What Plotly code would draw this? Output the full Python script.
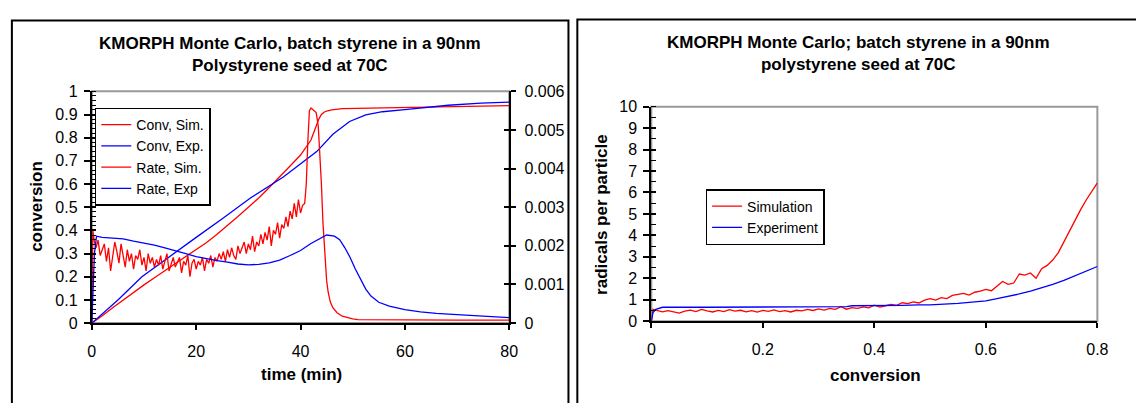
import plotly.graph_objects as go

# ---------------- Left chart data ----------------
# Conversion, simulation (time in min)
conv_sim_t = [0, 1, 2, 4, 6, 8, 10, 12, 14, 16, 18, 20, 22, 24, 26, 28, 30, 32, 34, 36, 38, 40,
              41, 42, 42.5, 43, 43.5, 44, 44.5, 45, 46, 48, 50, 55, 60, 65, 70, 75, 80]
conv_sim = [0, 0.015, 0.032, 0.066, 0.1, 0.133, 0.165, 0.196, 0.226, 0.256, 0.285, 0.315, 0.348,
            0.383, 0.42, 0.46, 0.5, 0.54, 0.585, 0.63, 0.678, 0.725, 0.755, 0.79, 0.82, 0.855,
            0.88, 0.9, 0.91, 0.915, 0.92, 0.925, 0.926, 0.928, 0.93, 0.932, 0.935, 0.938, 0.938]

# Conversion, experiment
conv_exp_t = [0, 1, 2, 5, 9.6, 15, 20, 25, 30.4, 36.7, 39.9, 43.1, 46.2, 49.4, 52.5, 55.7,
              60, 64.5, 68.3, 74.6, 80]
conv_exp = [0, 0.02, 0.04, 0.1, 0.2, 0.29, 0.37, 0.45, 0.54, 0.63, 0.685, 0.74, 0.815, 0.87,
            0.898, 0.912, 0.921, 0.93, 0.94, 0.949, 0.953]

# Rate, simulation (x 1e-3 per min)
rate_sim_t = [0, 0.2, 0.5,
              0.8, 1.2, 1.6, 2.0, 2.4, 2.8, 3.2, 3.6, 4.0, 4.4,
              4.8, 5.2, 5.6, 6.0, 6.4, 6.8, 7.2, 7.6, 8.0, 8.4,
              8.8, 9.2, 9.6, 10.0, 10.4, 10.8, 11.2, 11.6, 12.0, 12.4,
              12.8, 13.2, 13.6, 14.0, 14.4, 14.8, 15.2, 15.6, 16.0, 16.4,
              16.8, 17.2, 17.6, 18.0, 18.4, 18.8, 19.2, 19.6, 20.0, 20.4,
              20.8, 21.2, 21.6, 22.0, 22.4, 22.8, 23.2, 23.6, 24.0, 24.4,
              24.8, 25.2, 25.6, 26.0, 26.4, 26.8, 27.2, 27.6, 28.0, 28.4,
              28.8, 29.2, 29.6, 30.0, 30.4, 30.8, 31.2, 31.6, 32.0, 32.4,
              32.8, 33.2, 33.6, 34.0, 34.4, 34.8, 35.2, 35.6, 36.0, 36.4,
              36.8, 37.2, 37.6, 38.0, 38.4, 38.8, 39.2, 39.6, 40.0, 40.4,
              40.8, 41.1, 41.4, 41.7, 42.0, 42.5, 43.0, 43.4, 43.7, 44.0, 44.3, 44.6,
              45.0, 45.3, 45.7, 46.2, 47.0, 48.0, 49.0, 50.0, 51.0, 55, 60, 65, 70, 75, 80]
rate_sim_milli = [0.0, 2.4, 2.1,
                  1.95, 2.15, 1.75, 1.9, 2.05, 1.6, 1.95, 1.35, 1.8, 2.1,
                  1.85, 1.55, 2.05, 1.7, 1.45, 1.9, 1.6, 1.8, 1.4, 1.75,
                  1.65, 1.9, 1.5, 1.7, 1.35, 1.8, 1.55, 1.7, 1.45, 1.65,
                  1.5, 1.75, 1.4, 1.6, 1.8, 1.35, 1.55, 1.7, 1.45, 1.6,
                  1.7, 1.3, 1.6, 1.5, 1.75, 1.2, 1.55, 1.65, 1.4, 1.6,
                  1.5, 1.7, 1.35, 1.65, 1.55, 1.75, 1.45, 1.7, 1.6, 1.8,
                  1.65, 1.85, 1.6, 1.9, 1.7, 1.95, 1.75, 1.65, 2.0, 1.8,
                  1.95, 2.1, 1.8, 2.05, 1.9, 2.25, 1.85, 2.1, 2.0, 2.3,
                  2.05, 2.35, 2.15, 2.5, 2.0, 2.4, 2.3, 2.6, 2.2, 2.55,
                  2.45, 2.75, 2.5, 2.9, 2.7, 3.1, 2.75, 3.2, 2.85, 3.05,
                  3.1, 3.6, 4.7, 5.5, 5.57, 5.52, 5.45, 5.1, 4.4, 3.6, 2.6, 1.8,
                  1.1, 0.8, 0.55, 0.4, 0.27, 0.18, 0.14, 0.11, 0.09, 0.085, 0.085, 0.085, 0.08, 0.08, 0.08]

# Rate, experiment (x 1e-3 per min)
rate_exp_t = [0, 0.5, 0.9, 2, 4, 6, 8, 10, 12, 14, 16, 18, 20, 22, 24, 26, 28, 30, 32, 34, 36,
              38, 40, 42, 44, 45, 46.5, 47.5, 48.5, 49.5, 50.5, 51.5, 52.5, 53.5, 55, 57, 60,
              63, 66, 70, 74, 77, 80]
rate_exp_milli = [0, 1.8, 2.25, 2.22, 2.2, 2.18, 2.12, 2.07, 2.02, 1.95, 1.88, 1.8, 1.72, 1.66,
                  1.62, 1.58, 1.53, 1.51, 1.52, 1.56, 1.63, 1.75, 1.88, 2.06, 2.22, 2.28, 2.25,
                  2.16, 1.95, 1.7, 1.4, 1.12, 0.88, 0.7, 0.54, 0.44, 0.35, 0.29, 0.25, 0.22,
                  0.19, 0.17, 0.14]

# ---------------- Right chart data ----------------
rad_exp_conv = [0, 0.003, 0.008, 0.015, 0.02, 0.1, 0.2, 0.3, 0.31, 0.35, 0.36, 0.4, 0.45, 0.48,
                0.5, 0.55, 0.58, 0.6, 0.62, 0.64, 0.66, 0.68, 0.7, 0.72, 0.74, 0.76, 0.78, 0.8]
rad_exp = [0, 0.4, 0.55, 0.62, 0.65, 0.65, 0.65, 0.65, 0.68, 0.68, 0.72, 0.72, 0.74, 0.76,
           0.76, 0.83, 0.9, 0.95, 1.05, 1.15, 1.27, 1.4, 1.55, 1.72, 1.9, 2.12, 2.35, 2.55]

rad_sim_conv = [0, 0.003,
                0.01, 0.02, 0.03, 0.04, 0.05, 0.06, 0.07, 0.08, 0.09, 0.10,
                0.11, 0.12, 0.13, 0.14, 0.15, 0.16, 0.17, 0.18, 0.19, 0.20,
                0.21, 0.22, 0.23, 0.24, 0.25, 0.26, 0.27, 0.28, 0.29, 0.30,
                0.31, 0.32, 0.33, 0.34, 0.35, 0.36, 0.37, 0.38, 0.39, 0.40,
                0.41, 0.42, 0.43, 0.44, 0.45, 0.46, 0.47, 0.48, 0.49, 0.50,
                0.51, 0.52, 0.53, 0.54, 0.55, 0.56, 0.57, 0.58, 0.59, 0.60,
                0.61, 0.62, 0.63, 0.64, 0.65, 0.66, 0.67, 0.68, 0.69, 0.70,
                0.71, 0.72, 0.73, 0.74, 0.75, 0.76, 0.77, 0.78, 0.79, 0.80]
rad_sim = [0.0, 0.55,
           0.5, 0.44, 0.49, 0.42, 0.38, 0.47, 0.52, 0.45, 0.55, 0.48,
           0.43, 0.5, 0.45, 0.54, 0.47, 0.51, 0.44, 0.49, 0.42, 0.5,
           0.46, 0.53, 0.45, 0.49, 0.43, 0.51, 0.48, 0.55, 0.5, 0.57,
           0.52, 0.6, 0.55, 0.68, 0.56, 0.63, 0.6, 0.67, 0.62, 0.75,
           0.66, 0.72, 0.78, 0.74, 0.86, 0.82, 0.9, 0.85, 0.98, 1.05,
           0.98, 1.1, 1.05, 1.2, 1.25, 1.3, 1.22, 1.35, 1.4, 1.48,
           1.42, 1.65, 1.85, 1.72, 1.78, 2.2, 2.15, 2.25, 2.0, 2.45,
           2.6, 2.85, 3.2, 3.7, 4.2, 4.75, 5.2, 5.65, 6.05, 6.45]

# ---------------- Figure ----------------
W, H = 1136, 403
FONT = "Liberation Sans, Arial, sans-serif"
RED, BLUE = "#FF0000", "#0000FF"


def px_x(p):
    return p / W


def px_y(p):
    return (H - p) / H


rate_sim = [v / 1000 for v in rate_sim_milli]
rate_exp = [v / 1000 for v in rate_exp_milli]

fig = go.Figure()
lw = 1.3
fig.add_trace(go.Scatter(x=conv_sim_t, y=conv_sim, mode="lines", name="Conv, Sim.",
                         line=dict(color=RED, width=lw), xaxis="x", yaxis="y",
                         legend="legend", legendgroup="a"))
fig.add_trace(go.Scatter(x=conv_exp_t, y=conv_exp, mode="lines", name="Conv, Exp.",
                         line=dict(color=BLUE, width=lw), xaxis="x", yaxis="y",
                         legend="legend", legendgroup="b"))
fig.add_trace(go.Scatter(x=rate_sim_t, y=rate_sim, mode="lines", name="Rate, Sim.",
                         line=dict(color=RED, width=lw), xaxis="x", yaxis="y2",
                         legend="legend", legendgroup="c"))
fig.add_trace(go.Scatter(x=rate_exp_t, y=rate_exp, mode="lines", name="Rate, Exp",
                         line=dict(color=BLUE, width=lw), xaxis="x", yaxis="y2",
                         legend="legend", legendgroup="d"))
# helper empty traces so overlay tick axes get drawn
for ya, xa in (("y3", "x"), ("y4", "x"), ("y6", "x2")):
    fig.add_trace(go.Scatter(x=[], y=[], xaxis=xa, yaxis=ya, showlegend=False,
                             hoverinfo="skip"))

fig.add_trace(go.Scatter(x=rad_sim_conv, y=rad_sim, mode="lines", name="Simulation",
                         line=dict(color=RED, width=lw), xaxis="x2", yaxis="y5",
                         legend="legend2", legendgroup="e"))
fig.add_trace(go.Scatter(x=rad_exp_conv, y=rad_exp, mode="lines", name="Experiment",
                         line=dict(color=BLUE, width=lw), xaxis="x2", yaxis="y5",
                         legend="legend2", legendgroup="f"))

tickfont = dict(family=FONT, size=16, color="black")
ax_common = dict(showgrid=False, zeroline=False, tickfont=tickfont, tickcolor="black",
                 linecolor="black")

left_dom_x = [px_x(89), px_x(512)]
left_dom_y = [px_y(329), px_y(87)]
right_dom_x = [px_x(656), px_x(1108)]
right_dom_y = [px_y(327), px_y(103)]

fig.update_layout(
    width=W, height=H, margin=dict(l=0, r=0, t=0, b=0),
    paper_bgcolor="white", plot_bgcolor="white",
    font=dict(family=FONT, color="black"),
    xaxis=dict(domain=left_dom_x, range=[0, 80], dtick=20, anchor="y", showline=True,
               linewidth=2, ticks="outside", ticklen=5, tickwidth=1.5,
               ticklabelstandoff=8, **ax_common),
    yaxis=dict(domain=left_dom_y, range=[0, 1], dtick=0.1, anchor="x", showline=True,
               linewidth=2, ticks="outside", ticklen=6, tickwidth=1.5,
               minor=dict(ticks="inside", dtick=0.02, ticklen=4, tickcolor="black",
                          tickwidth=1),
               ticklabelstandoff=3, **ax_common),
    yaxis2=dict(range=[0, 0.006], dtick=0.001, overlaying="y", side="right", anchor="x",
                showline=True, linewidth=2, ticks="outside", ticklen=5, tickwidth=1.5,
                ticklabelstandoff=5, **ax_common),
    yaxis3=dict(range=[0, 1], dtick=0.1, overlaying="y", anchor="x", showline=False,
                ticks="inside", ticklen=4, tickwidth=1.5, showticklabels=False,
                **ax_common),
    yaxis4=dict(range=[0, 0.006], dtick=0.001, overlaying="y", side="right", anchor="x",
                showline=False, ticks="inside", ticklen=5, tickwidth=1.5,
                showticklabels=False, **ax_common),
    xaxis2=dict(domain=right_dom_x, range=[0, 0.8], dtick=0.2, anchor="y5", showline=True,
                linewidth=2, ticks="outside", ticklen=5, tickwidth=1.5,
                ticklabelstandoff=8, **ax_common),
    yaxis5=dict(domain=right_dom_y, range=[0, 10], dtick=1, anchor="x2", showline=True,
                linewidth=2, ticks="outside", ticklen=6, tickwidth=1.5,
                minor=dict(ticks="inside", dtick=0.5, ticklen=5, tickcolor="black",
                           tickwidth=1),
                ticklabelstandoff=3, **ax_common),
    yaxis6=dict(range=[0, 10], dtick=1, overlaying="y5", anchor="x2", showline=False,
                ticks="inside", ticklen=5, tickwidth=1.5, showticklabels=False,
                **ax_common),
    legend=dict(x=px_x(92), y=px_y(104), xanchor="left", yanchor="top",
                bgcolor="white", bordercolor="black", borderwidth=1.5,
                font=dict(family=FONT, size=14, color="black"), tracegroupgap=0,
                itemwidth=30),
    legend2=dict(x=px_x(711), y=px_y(189), xanchor="left", yanchor="top",
                 bgcolor="white", bordercolor="black", borderwidth=1.5,
                 font=dict(family=FONT, size=14, color="black"), tracegroupgap=0,
                 itemwidth=30),
    showlegend=True,
)

# plot-area borders (grey) and panel frames (black)
shapes = [
    dict(type="rect", xref="x domain", yref="y domain", x0=0, x1=1, y0=0, y1=1,
         line=dict(color="#999999", width=2), layer="below"),
    dict(type="rect", xref="x2 domain", yref="y5 domain", x0=0, x1=1, y0=0, y1=1,
         line=dict(color="#999999", width=2), layer="below"),
    dict(type="rect", xref="paper", yref="paper", x0=px_x(8), x1=px_x(572),
         y0=-0.1, y1=px_y(13), line=dict(color="black", width=2)),
    dict(type="rect", xref="paper", yref="paper", x0=px_x(581), x1=1.05,
         y0=-0.1, y1=px_y(12), line=dict(color="black", width=2)),
]
fig.update_layout(shapes=shapes)

title_font = dict(family=FONT, size=17, color="black")
ann = [
    dict(text="<b>KMORPH Monte Carlo, batch styrene in a 90nm</b><br><b>Polystyrene seed at 70C</b>",
         x=px_x(290), y=px_y(49), xref="paper", yref="paper", showarrow=False,
         xanchor="center", yanchor="middle", font=title_font),
    dict(text="<b>KMORPH Monte Carlo; batch styrene in a 90nm</b><br><b>polystyrene seed at 70C</b>",
         x=px_x(866), y=px_y(47.5), xref="paper", yref="paper", showarrow=False,
         xanchor="center", yanchor="middle", font=title_font),
    dict(text="<b>conversion</b>", textangle=-90, x=px_x(33), y=px_y(207),
         xref="paper", yref="paper", showarrow=False, xanchor="center", yanchor="middle",
         font=title_font),
    dict(text="<b>time (min)</b>", x=px_x(301), y=px_y(383),
         xref="paper", yref="paper", showarrow=False, xanchor="center", yanchor="middle",
         font=title_font),
    dict(text="<b>radicals per particle</b>", textangle=-90, x=px_x(606), y=px_y(215),
         xref="paper", yref="paper", showarrow=False, xanchor="center", yanchor="middle",
         font=title_font),
    dict(text="<b>conversion</b>", x=px_x(883), y=px_y(384),
         xref="paper", yref="paper", showarrow=False, xanchor="center", yanchor="middle",
         font=title_font),
]
fig.update_layout(annotations=ann)

css_fix = (
    "var s=document.createElement('style');"
    "s.textContent='html,body{margin:0!important;padding:0!important;overflow:hidden;}"
    "body>div{margin:0;padding:0;line-height:0;}';"
    "document.head.appendChild(s);"
)
fig.write_html("out.html", config={"displayModeBar": False}, post_script=css_fix)
